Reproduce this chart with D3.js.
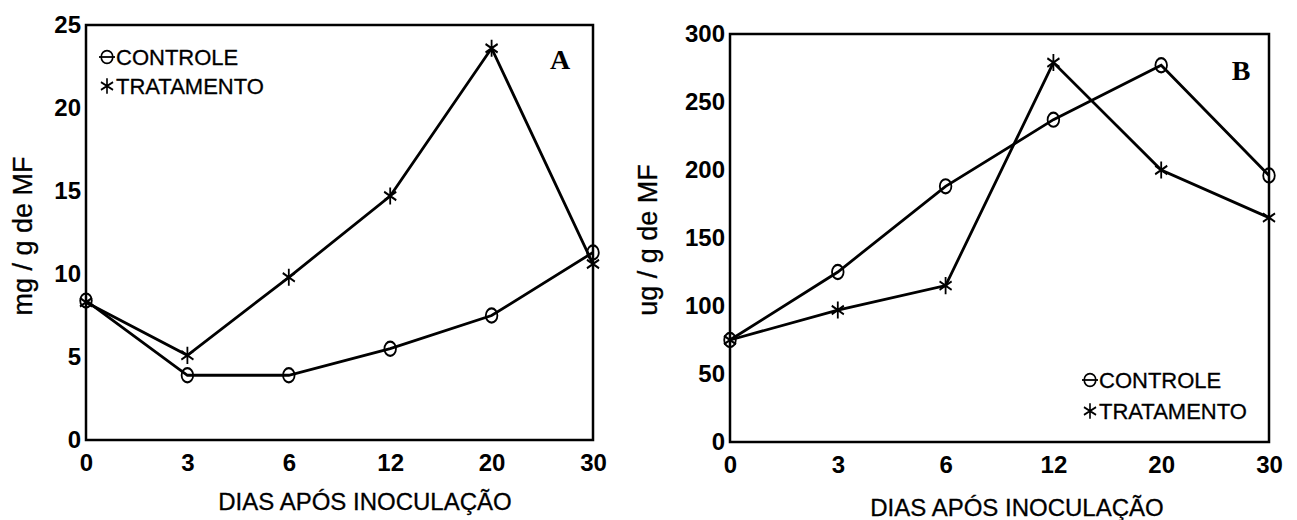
<!DOCTYPE html>
<html>
<head>
<meta charset="utf-8">
<script src="https://cdn.jsdelivr.net/npm/d3@7"></script>
<style>
  body { margin: 0; background: #fff; }
  text { fill: #000; }
</style>
</head>
<body>
<svg width="1297" height="520" font-family='"Liberation Sans", Arial, sans-serif'></svg>
<script>
let days = ['0', '3', '6', '12', '20', '30']

let controleA = [8.4, 3.9, 3.9, 5.5, 7.5, 11.3]
let tratamentoA = [8.3, 5.1, 9.8, 14.7, 23.6, 10.6]
let ticksA = [0, 5, 10, 15, 20, 25]

let controleB = [75, 125, 188, 237, 277, 196]
let tratamentoB = [75, 97, 115, 279, 200, 165]
let ticksB = [0, 50, 100, 150, 200, 250, 300]

let seriesNames = ['CONTROLE', 'TRATAMENTO']

let svg = d3.select('svg')

let circle = d3.symbol().type(d3.symbolCircle).size(130)
let star = d3.symbol().type(d3.symbolAsterisk).size(170)

function panel(p) {
    let x = d3.scalePoint().domain(days).range([p.left, p.right])
    let y = d3.scaleLinear().domain([0, p.max]).range([p.bottom, p.top])
    let g = svg.append('g')

    // frame
    g.append('rect')
        .attr('x', p.left).attr('y', p.top)
        .attr('width', p.right - p.left).attr('height', p.bottom - p.top)
        .attr('fill', 'none').attr('stroke', '#000').attr('stroke-width', 2.5)

    let ya = g.append('g')
        .attr('transform', `translate(${p.left},0)`)
        .call(d3.axisLeft(y).tickValues(p.ticks).tickSize(0).tickPadding(5))
    let xa = g.append('g')
        .attr('transform', `translate(0,${p.bottom})`)
        .call(d3.axisBottom(x).tickSize(0).tickPadding(14))
    ya.select('.domain').remove()
    xa.select('.domain').remove()
    ya.attr('font-family', null).attr('font-size', 24)
    xa.attr('font-family', null).attr('font-size', 24)
    g.selectAll('.tick text')
        .attr('font-weight', 'bold')
        .attr('fill', '#000')

    let line = d3.line().x((d, i) => x(days[i])).y(d => y(d))
    let sets = [p.controle, p.tratamento]
    let shapes = [circle, star]

    sets.forEach((vals, k) => {
        g.append('path')
            .datum(vals)
            .attr('d', line)
            .attr('fill', 'none').attr('stroke', '#000').attr('stroke-width', 2.8)
        g.selectAll('.m' + k)
            .data(vals)
            .enter()
            .append('path')
            .attr('d', shapes[k])
            .attr('transform', (d, i) => `translate(${x(days[i])},${y(d)}) scale(0.9,1.1)`)
            .attr('fill', 'none').attr('stroke', '#000').attr('stroke-width', 2)
    })

    // legend
    let lg = g.append('g')
    seriesNames.forEach((name, k) => {
        let cy = p.legY + k * p.legGap
        if (k == 0) {
            lg.append('line')
                .attr('x1', p.legX - 8).attr('x2', p.legX + 8)
                .attr('y1', cy).attr('y2', cy)
                .attr('stroke', '#000').attr('stroke-width', 1.8)
        }
        lg.append('path')
            .attr('d', shapes[k])
            .attr('transform', `translate(${p.legX},${cy}) scale(0.9,1)`)
            .attr('fill', 'none').attr('stroke', '#000').attr('stroke-width', 1.8)
        lg.append('text')
            .attr('x', p.legX + 9).attr('y', cy + 8)
            .attr('font-size', 22)
            .attr('stroke', '#000').attr('stroke-width', 0.3)
            .text(name)
    })

    g.append('text')
        .attr('x', p.letterX).attr('y', p.letterY)
        .attr('text-anchor', 'middle')
        .attr('font-family', '"Liberation Serif", "Times New Roman", serif')
        .attr('font-weight', 'bold').attr('font-size', 28)
        .text(p.letter)

    g.append('text')
        .attr('transform', `translate(${p.yTitleX},${p.yTitleY}) rotate(-90)`)
        .attr('text-anchor', 'middle')
        .attr('font-size', 27)
        .attr('stroke', '#000').attr('stroke-width', 0.3)
        .text(p.yTitle)

    g.append('text')
        .attr('x', p.xTitleX).attr('y', p.xTitleY)
        .attr('text-anchor', 'middle')
        .attr('font-size', 24)
        .attr('stroke', '#000').attr('stroke-width', 0.3)
        .text('DIAS APÓS INOCULAÇÃO')
}

panel({
    left: 86, right: 593, top: 25, bottom: 440, max: 25, ticks: ticksA,
    controle: controleA, tratamento: tratamentoA,
    legX: 107, legY: 57, legGap: 29,
    letter: 'A', letterX: 560, letterY: 69,
    yTitle: 'mg / g de MF', yTitleX: 32, yTitleY: 236,
    xTitleX: 365, xTitleY: 510
})

panel({
    left: 730, right: 1269, top: 34, bottom: 442, max: 300, ticks: ticksB,
    controle: controleB, tratamento: tratamentoB,
    legX: 1090, legY: 380, legGap: 31,
    letter: 'B', letterX: 1241, letterY: 80,
    yTitle: 'ug / g de MF', yTitleX: 657, yTitleY: 240,
    xTitleX: 1017, xTitleY: 516
})
</script>
</body>
</html>
